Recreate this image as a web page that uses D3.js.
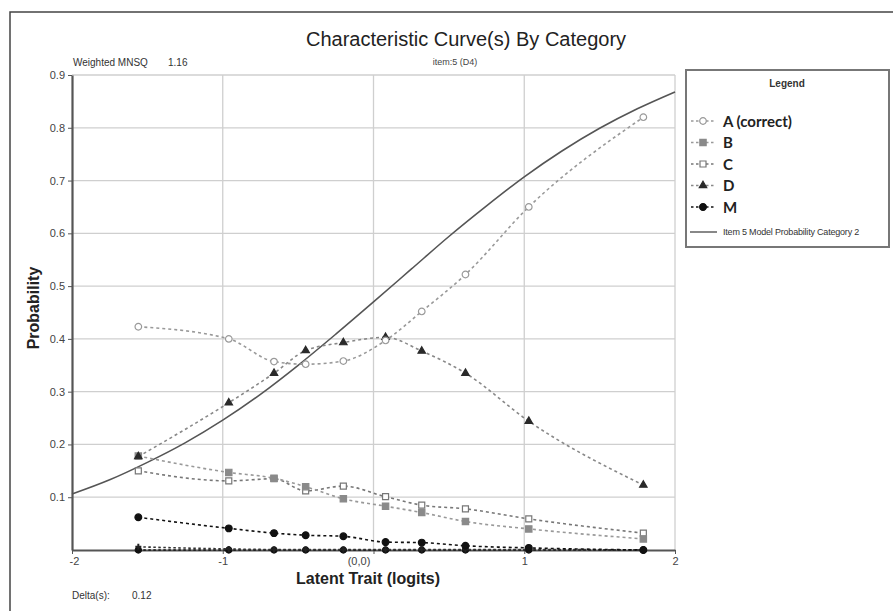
<!DOCTYPE html>
<meta charset="utf-8">
<script src="https://d3js.org/d3.v7.min.js"></script>
<style>
  body { margin: 0; background: #fff; }
  text { font-family: Arial, "Liberation Sans", sans-serif; }
</style>
<div id="my_dataviz"></div>
<script>

// values
let logits = [-1.56, -0.96, -0.66, -0.45, -0.20, 0.08, 0.32, 0.61, 1.03, 1.79];
let catA = [0.423, 0.400, 0.357, 0.352, 0.358, 0.397, 0.452, 0.522, 0.650, 0.820];
let catB = [0.178, 0.147, 0.136, 0.120, 0.097, 0.083, 0.071, 0.054, 0.040, 0.021];
let catC = [0.150, 0.131, 0.135, 0.112, 0.121, 0.101, 0.085, 0.078, 0.059, 0.032];
let catD = [0.177, 0.279, 0.335, 0.378, 0.393, 0.403, 0.377, 0.335, 0.244, 0.123];
let catM = [0.062, 0.041, 0.032, 0.028, 0.026, 0.015, 0.014, 0.008, 0.004, 0.000];
// unlabeled near-zero categories along the bottom
let catE = [0.006, 0.002, 0.001, 0.001, 0.001, 0.001, 0.001, 0.001, 0.001, 0.000];
let catF = [0, 0, 0, 0, 0, 0, 0, 0, 0, 0];

// model curve (solid line)
let modelTheta = [-2, -1.75, -1.5, -1.25, -1, -0.75, -0.5, -0.25, 0, 0.25, 0.5, 0.75, 1, 1.25, 1.5, 1.75, 2];
let modelProb = [0.106, 0.133, 0.166, 0.203, 0.246, 0.295, 0.350, 0.409, 0.470, 0.532, 0.594, 0.652, 0.707, 0.756, 0.799, 0.836, 0.868];

let yTicks = [0.1, 0.2, 0.3, 0.4, 0.5, 0.6, 0.7, 0.8, 0.9];
let xTicks = [-2, -1, 0, 1, 2];
let xTickLabels = ["-2", "-1", "(0,0)", "1", "2"];
let legendNames = ["A (correct)", "B", "C", "D", "M"];

let W = 893, H = 611;
let svg = d3.select("#my_dataviz").append("svg")
    .attr("width", W).attr("height", H);

// outer frame
svg.append("rect")
    .attr("x", 10).attr("y", 12)
    .attr("width", W).attr("height", H)
    .style("fill", "none").style("stroke", "#444").style("stroke-width", 1.5);

let x = d3.scaleLinear().domain([-2, 2]).range([72, 675]);
let y = d3.scaleLinear().domain([0, 0.9]).range([550, 75]);

// grid
svg.append("g").selectAll("line").data(yTicks).enter().append("line")
    .attr("x1", x(-2)).attr("x2", x(2))
    .attr("y1", d => y(d)).attr("y2", d => y(d))
    .style("stroke", "#cfcfcf").style("stroke-width", 1.3);
svg.append("g").selectAll("line").data([-1, 0, 1, 2]).enter().append("line")
    .attr("x1", d => x(d)).attr("x2", d => x(d))
    .attr("y1", y(0)).attr("y2", y(0.9))
    .style("stroke", "#cfcfcf").style("stroke-width", 1.3);

// axes
let yAxis = svg.append("g")
    .attr("transform", "translate(" + x(-2) + ",0)")
    .call(d3.axisLeft(y).tickValues(yTicks).tickSize(4).tickSizeOuter(0).tickFormat(d3.format(".1f")));
let xAxis = svg.append("g")
    .attr("transform", "translate(0," + y(0) + ")")
    .call(d3.axisBottom(x).tickValues(xTicks).tickSize(4).tickSizeOuter(0).tickFormat((d, i) => xTickLabels[i]));
[xAxis, yAxis].forEach(a => {
  a.select(".domain").style("stroke", "#555").style("stroke-width", 2.2);
  a.selectAll(".tick line").style("stroke", "#555");
  a.selectAll(".tick text").style("fill", "#444").style("font-size", "11px");
});
yAxis.selectAll(".tick text").attr("x", -7);
xAxis.selectAll(".tick text").attr("y", 7)
    .attr("dx", d => d === 0 ? -15 : (d === -2 ? 2 : 0));

// model probability curve
let curveLine = d3.line()
    .x((d, i) => x(modelTheta[i]))
    .y(d => y(d))
    .curve(d3.curveMonotoneX);
svg.append("path")
    .datum(modelProb)
    .attr("d", curveLine)
    .style("fill", "none").style("stroke", "#555").style("stroke-width", 1.6);

// category series
let series = [
  {name: "F", v: catF, line: "#111", dash: "2.5,2.5", sym: d3.symbolCircle, size: 30, fill: "#111", stroke: "#111"},
  {name: "E", v: catE, line: "#333", dash: "2.5,2.5", sym: d3.symbolCross, size: 20, fill: "#222", stroke: "none"},
  {name: "M", v: catM, line: "#111", dash: "3,3", sym: d3.symbolCircle, size: 36, fill: "#111", stroke: "#111"},
  {name: "C", v: catC, line: "#777", dash: "3,3", sym: d3.symbolSquare, size: 36, fill: "#fff", stroke: "#777"},
  {name: "B", v: catB, line: "#999", dash: "3,3", sym: d3.symbolSquare, size: 40, fill: "#8a8a8a", stroke: "#8a8a8a"},
  {name: "D", v: catD, line: "#888", dash: "3,3", sym: d3.symbolTriangle, size: 24, fill: "#2a2a2a", stroke: "#2a2a2a"},
  {name: "A", v: catA, line: "#999", dash: "3,3", sym: d3.symbolCircle, size: 34, fill: "#fff", stroke: "#999"}
];

let catLine = d3.line()
    .x((d, i) => x(logits[i]))
    .y(d => y(d))
    .curve(d3.curveMonotoneX);

series.forEach(s => {
  svg.append("path")
      .datum(s.v)
      .attr("d", catLine)
      .style("fill", "none").style("stroke", s.line)
      .style("stroke-width", 1.6).style("stroke-dasharray", s.dash);
  svg.append("g").selectAll("path").data(s.v).enter().append("path")
      .attr("d", d3.symbol().type(s.sym).size(s.size))
      .attr("transform", (d, i) => "translate(" + x(logits[i]) + "," + y(d) + ")")
      .style("fill", s.fill).style("stroke", s.stroke).style("stroke-width", 1.2);
});

// titles and labels
svg.append("text").attr("x", 466).attr("y", 46).attr("text-anchor", "middle")
    .style("font-size", "20px").style("fill", "#222")
    .text("Characteristic Curve(s) By Category");
svg.append("text").attr("x", 455).attr("y", 65).attr("text-anchor", "middle")
    .style("font-size", "9px").style("fill", "#444").text("item:5 (D4)");
svg.append("text").attr("x", 73).attr("y", 66)
    .style("font-size", "10px").style("fill", "#333").text("Weighted MNSQ");
svg.append("text").attr("x", 168).attr("y", 66)
    .style("font-size", "10px").style("fill", "#333").text("1.16");
svg.append("text").attr("x", 72).attr("y", 599)
    .style("font-size", "10px").style("fill", "#333").text("Delta(s):");
svg.append("text").attr("x", 132).attr("y", 599)
    .style("font-size", "10px").style("fill", "#333").text("0.12");
svg.append("text").attr("x", 368).attr("y", 584).attr("text-anchor", "middle")
    .style("font-size", "16px").style("font-weight", "bold").style("fill", "#222")
    .text("Latent Trait (logits)");
svg.append("text")
    .attr("transform", "translate(39,308) rotate(-90)")
    .attr("text-anchor", "middle")
    .style("font-size", "16px").style("font-weight", "bold").style("fill", "#222")
    .text("Probability");

// legend
let lg = svg.append("g");
lg.append("rect").attr("x", 686).attr("y", 70).attr("width", 203).attr("height", 177)
    .style("fill", "#fff").style("stroke", "#777").style("stroke-width", 2);
lg.append("text").attr("x", 787).attr("y", 87).attr("text-anchor", "middle")
    .style("font-size", "10px").style("font-weight", "bold").style("fill", "#333").text("Legend");

let legendSeries = ["A", "B", "C", "D", "M"].map(n => series.find(s => s.name === n));
legendSeries.forEach((s, i) => {
  let cy = 121 + i * 21.5;
  lg.append("line").attr("x1", 691).attr("x2", 715).attr("y1", cy).attr("y2", cy)
      .style("stroke", s.line).style("stroke-width", 1.4).style("stroke-dasharray", "2.5,2.5");
  lg.append("path").attr("d", d3.symbol().type(s.sym).size(s.size))
      .attr("transform", "translate(703," + cy + ")")
      .style("fill", s.fill).style("stroke", s.stroke).style("stroke-width", 1.2);
  lg.append("text").attr("x", 723).attr("y", cy + 5.5)
      .style("font-family", "Lato, sans-serif").style("font-size", "15px")
      .style("font-weight", "bold").style("fill", "#222")
      .text(legendNames[i]);
});
lg.append("line").attr("x1", 690).attr("x2", 717).attr("y1", 232).attr("y2", 232)
    .style("stroke", "#555").style("stroke-width", 1.4);
lg.append("text").attr("x", 723).attr("y", 235)
    .style("font-size", "9px").style("fill", "#333").style("letter-spacing", "-0.2px")
    .text("Item 5 Model Probability Category 2");

</script>
